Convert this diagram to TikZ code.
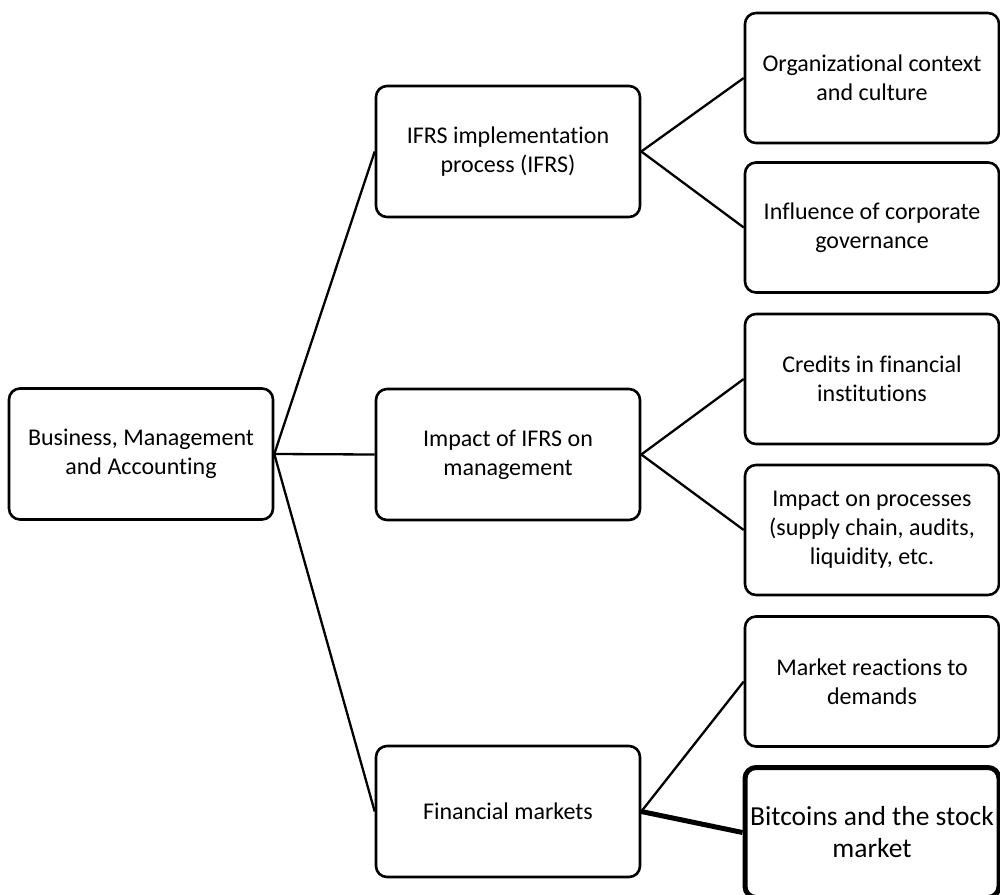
\documentclass[tikz,border=0pt]{standalone}
\usepackage{fontspec}
\setmainfont[Ligatures={NoCommon}]{Carlito}
\begin{document}
\begin{tikzpicture}[x=1pt,y=-1pt,
  box/.style={draw, line width=2.6pt, rounded corners=11pt, align=center,
    inner sep=0pt, font=\fontsize{24}{29}\selectfont},
  midbox/.style={box, minimum width=264pt, minimum height=131pt},
  rbox/.style={box, minimum width=254pt, minimum height=130pt},
  link/.style={line width=2.3pt},
  boldlink/.style={line width=5pt}]
\useasboundingbox (0,0) rectangle (1000,894);
\node[midbox] (root) at (141,454) {Business, Management\\and Accounting};
\node[midbox] (ifrs) at (508,151.5) {IFRS implementation\\process (IFRS)};
\node[midbox] (imp) at (508,454.5) {Impact of IFRS on\\management};
\node[midbox] (fin) at (508,811.5) {Financial markets};
\node[rbox] (org) at (872,78) {Organizational context\\and culture};
\node[rbox] (infl) at (872,227.5) {Influence of corporate\\governance};
\node[rbox] (cred) at (872,379) {Credits in financial\\institutions};
\node[rbox] (proc) at (872,530) {Impact on processes\\(supply chain, audits,\\liquidity, etc.};
\node[rbox] (mkt) at (872,681.5) {Market reactions to\\demands};
\node[rbox, line width=5pt, font=\fontsize{27.5}{32}\selectfont] (btc) at (872,832.5) {Bitcoins and the stock\\market};
\draw[link] (root.east) -- (ifrs.west);
\draw[link] (root.east) -- (imp.west);
\draw[link] (root.east) -- (fin.west);
\draw[link] (ifrs.east) -- (org.west);
\draw[link] (ifrs.east) -- (infl.west);
\draw[link] (imp.east) -- (cred.west);
\draw[link] (imp.east) -- (proc.west);
\draw[link] (fin.east) -- (mkt.west);
\draw[boldlink] (fin.east) -- (btc.west);
\end{tikzpicture}
\end{document}
